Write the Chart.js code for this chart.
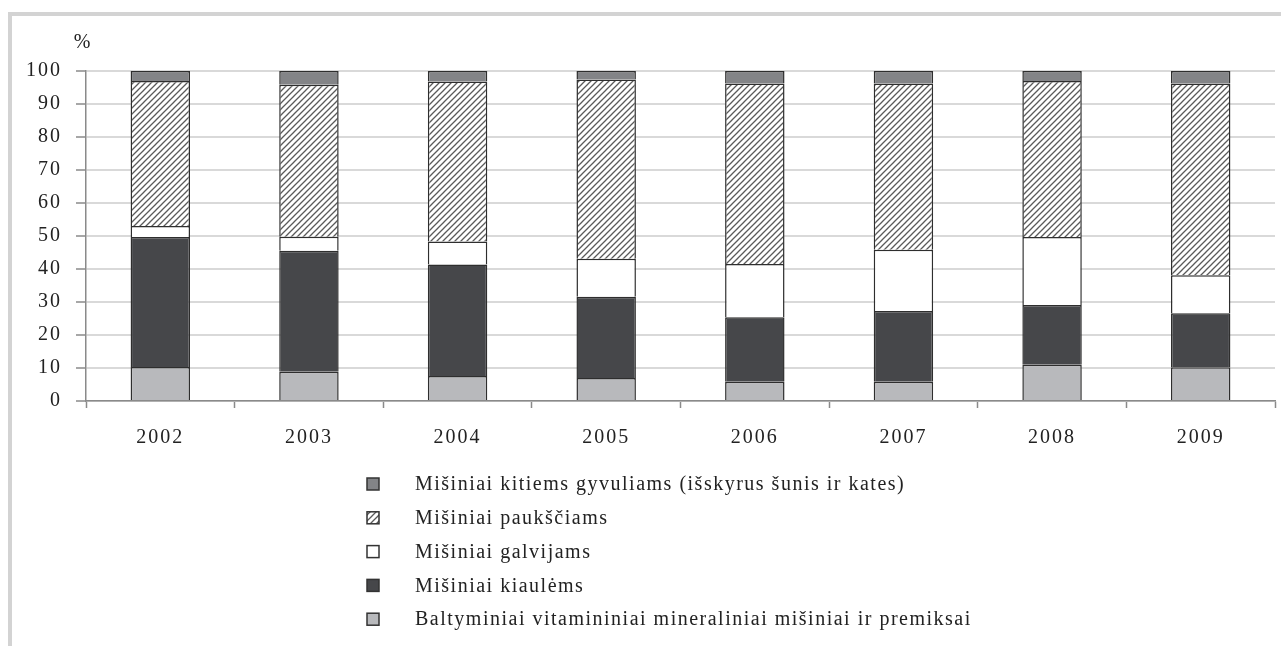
<!DOCTYPE html>
<html>
<head>
<meta charset="utf-8">
<script src="https://cdn.jsdelivr.net/npm/chart.js@4"></script>
<style>
  html, body { margin: 0; padding: 0; background: #fff; }
  #wrap { position: relative; width: 1281px; height: 646px; overflow: hidden; }
  .frameTop { position: absolute; left: 8px; top: 12px; width: 1273px; height: 4px; background: #d3d3d3; }
  .frameLeft { position: absolute; left: 8px; top: 12px; width: 4px; height: 634px; background: #d3d3d3; }
  canvas { position: absolute; left: 0; top: 0; }
</style>
</head>
<body>
<div id="wrap">
  <div class="frameTop"></div>
  <div class="frameLeft"></div>
  <canvas id="feedChart" width="1281" height="646"></canvas>
</div>
<script>
// years and shares (%) by type of compound feed
const years = ['2002', '2003', '2004', '2005', '2006', '2007', '2008', '2009'];
const premiksai  = [10.3, 8.9, 7.6, 7.0, 5.8, 5.8, 11.0, 10.2];
const kiaulems   = [39.4, 36.6, 33.8, 24.6, 19.6, 21.5, 18.1, 16.4];
const galvijams  = [3.3, 4.3, 6.9, 11.5, 16.1, 18.5, 20.6, 11.5];
const paukstiams = [44.0, 46.0, 48.5, 54.3, 54.7, 50.4, 47.3, 58.1];
const kitiems    = [3.0, 4.2, 3.2, 2.6, 3.8, 3.8, 3.0, 3.8];
const yTicks = [0, 10, 20, 30, 40, 50, 60, 70, 80, 90, 100];

const FONT = 'Liberation Serif';

// diagonal hatch for the poultry series
function hatch() {
  const c = document.createElement('canvas');
  c.width = 6; c.height = 6;
  const g = c.getContext('2d');
  g.fillStyle = '#ffffff';
  g.fillRect(0, 0, 6, 6);
  g.strokeStyle = '#5a5a5a';
  g.lineWidth = 1.3;
  g.beginPath();
  g.moveTo(0, 6); g.lineTo(6, 0);
  g.moveTo(-1, 1); g.lineTo(1, -1);
  g.moveTo(5, 7); g.lineTo(7, 5);
  g.stroke();
  return g.createPattern(c, 'repeat');
}

// the scanned text is wide, so space the letters a bit
const spacing = {
  id: 'spacing',
  beforeDraw(chart) { chart.ctx.letterSpacing = '2px'; }
};

// vertical legend under the chart + the "%" unit label
const extras = {
  id: 'extras',
  afterDraw(chart) {
    const ctx = chart.ctx;
    const ys = chart.scales.y;
    ctx.save();
    ctx.letterSpacing = '0px';
    ctx.font = '20px ' + FONT;
    ctx.fillStyle = '#222';
    ctx.textAlign = 'center';
    ctx.textBaseline = 'middle';
    ctx.fillText('%', 82, ys.getPixelForValue(100) - 28);

    const sets = chart.data.datasets;
    ctx.textAlign = 'left';
    ctx.letterSpacing = '1.5px';
    for (let k = 0; k < sets.length; k++) {
      const ds = sets[sets.length - 1 - k];
      const y = 484 + k * 33.8;
      ctx.fillStyle = ds.backgroundColor;
      ctx.fillRect(367, y - 6, 12, 12);
      ctx.strokeStyle = '#333';
      ctx.lineWidth = 1.5;
      ctx.strokeRect(367, y - 6, 12, 12);
      ctx.fillStyle = '#222';
      ctx.fillText(ds.label, 415, y + 1);
    }
    ctx.restore();
  }
};

const border = '#2e2e2e';
const ctx = document.getElementById('feedChart');
const feedChart = new Chart(ctx, {
  type: 'bar',
  data: {
    labels: years,
    datasets: [
      { label: 'Baltyminiai vitamininiai mineraliniai mišiniai ir premiksai', data: premiksai,
        backgroundColor: '#b8b9bc', borderColor: border, borderWidth: 1.5 },
      { label: 'Mišiniai kiaulėms', data: kiaulems,
        backgroundColor: '#46474a', borderColor: border, borderWidth: 1.5 },
      { label: 'Mišiniai galvijams', data: galvijams,
        backgroundColor: '#ffffff', borderColor: border, borderWidth: 1.5 },
      { label: 'Mišiniai paukščiams', data: paukstiams,
        backgroundColor: hatch(), borderColor: border, borderWidth: 1.5 },
      { label: 'Mišiniai kitiems gyvuliams (išskyrus šunis ir kates)', data: kitiems,
        backgroundColor: '#838487', borderColor: border, borderWidth: 1.5 }
    ]
  },
  options: {
    responsive: false,
    animation: false,
    layout: { padding: { left: 0, top: 71, right: 6, bottom: 0 } },
    datasets: { bar: { categoryPercentage: 1, barPercentage: 0.40 } },
    plugins: { legend: { display: false }, tooltip: { enabled: false } },
    scales: {
      x: {
        stacked: true,
        offset: true,
        grid: { offset: true, drawOnChartArea: false, drawTicks: true, tickLength: 7,
                tickColor: '#8a8a8a', tickWidth: 1.5 },
        border: { color: '#8a8a8a', width: 1.5 },
        ticks: { padding: 18, color: '#222', font: { family: FONT, size: 20 } },
        afterFit(scale) { scale.height = 245; }
      },
      y: {
        stacked: true,
        min: 0,
        max: 100,
        afterBuildTicks(scale) { scale.ticks = yTicks.map(v => ({ value: v })); },
        grid: { color: '#d9d9d9', lineWidth: 2, tickLength: 10, tickColor: '#8a8a8a', tickWidth: 1.5 },
        border: { color: '#8a8a8a', width: 1.5 },
        ticks: { padding: 14, color: '#222', font: { family: FONT, size: 20 } },
        afterFit(scale) { scale.width = 86; }
      }
    }
  },
  plugins: [spacing, extras]
});
</script>
</body>
</html>
